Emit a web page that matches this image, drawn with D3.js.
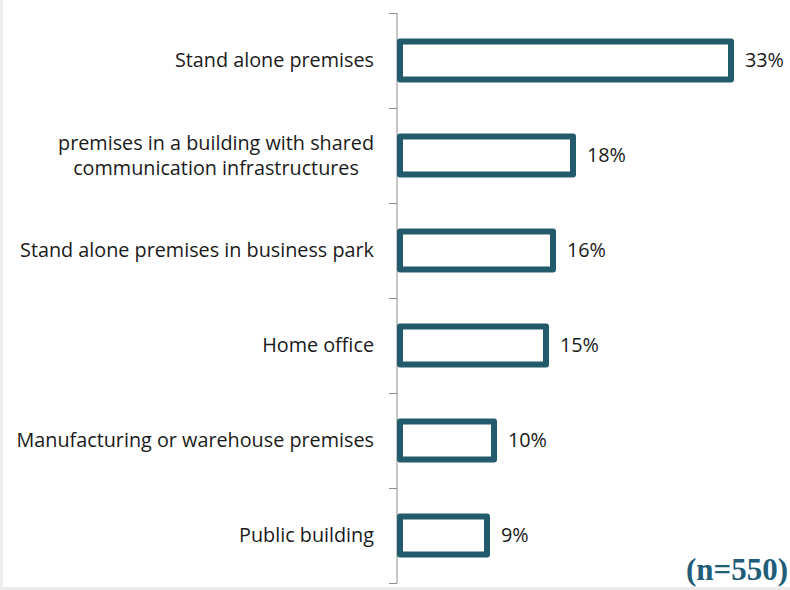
<!DOCTYPE html>
<html>
<head>
<meta charset="utf-8">
<script src="https://cdn.jsdelivr.net/npm/d3@7"></script>
<style>
  body { margin: 0; background: #fff; }
  svg { display: block; }
  .cat, .val { font-family: "Open Sans", sans-serif; font-size: 19.8px; fill: #1a1a1a; }
  .note { font-family: "Liberation Serif", serif; font-weight: bold; font-size: 31px; fill: #215d78; }
</style>
</head>
<body>
<div id="chart"></div>
<script>
'use strict';
(function() {
  // Data
  var categories = [
    'Stand alone premises',
    'premises in a building with shared\ncommunication infrastructures',
    'Stand alone premises in business park',
    'Home office',
    'Manufacturing or warehouse premises',
    'Public building'
  ];
  var values = [33.4, 17.6, 15.6, 14.9, 9.7, 9.0];
  var sampleNote = '(n=550)';

  //Width and height
  var w = 790;
  var h = 590;
  var axisX = 397;
  var top = 13;
  var bottom = 583;
  var barStroke = 6;
  var labelRight = 374;
  var BAR_COLOR = '#245b6c';

  var data = categories.map(function(c, i) {
    return {name: c, value: values[i]};
  });

  var svg = d3.select('#chart')
    .append('svg')
    .attr('width', w)
    .attr('height', h);

  // faint frame of the slide
  svg.append('rect')
    .attr('x', 0).attr('y', 0)
    .attr('width', 3).attr('height', h)
    .attr('fill', '#ececec');
  svg.append('rect')
    .attr('x', 0).attr('y', h - 3)
    .attr('width', w).attr('height', 3)
    .attr('fill', '#ececec');

  // Scales
  var xScale = d3.scaleLinear()
    .domain([0, 35])
    .range([axisX, axisX + 350]);

  var yScale = d3.scaleBand()
    .domain(d3.range(data.length))
    .range([top, bottom])
    .paddingInner(0.537)
    .paddingOuter(0.2685);

  // Y axis: line with ticks between categories
  var axis = svg.append('g').attr('class', 'axis');
  axis.append('line')
    .attr('x1', axisX).attr('x2', axisX)
    .attr('y1', top).attr('y2', bottom)
    .attr('stroke', '#8c8c8c')
    .attr('stroke-width', 1);
  var step = yScale.step();
  var tickYs = d3.range(data.length + 1).map(function(i) {
    return top + i * step;
  });
  axis.selectAll('.tick')
    .data(tickYs)
    .enter()
    .append('line')
    .attr('class', 'tick')
    .attr('x1', axisX - 8).attr('x2', axisX)
    .attr('y1', function(d) { return Math.round(d) + 0.5; })
    .attr('y2', function(d) { return Math.round(d) + 0.5; })
    .attr('stroke', '#8c8c8c')
    .attr('stroke-width', 1);

  // Bars (outlined)
  svg.append('g')
    .attr('class', 'bars')
    .selectAll('rect')
    .data(data)
    .enter()
    .append('rect')
    .attr('x', xScale(0) + barStroke / 2)
    .attr('y', function(d, i) { return yScale(i) + barStroke / 2; })
    .attr('width', function(d) { return xScale(d.value) - xScale(0) - barStroke / 2; })
    .attr('height', yScale.bandwidth() - barStroke)
    .attr('fill', '#fff')
    .attr('stroke', BAR_COLOR)
    .attr('stroke-width', barStroke)
    .attr('stroke-linejoin', 'round');

  // Value labels
  svg.append('g')
    .selectAll('text')
    .data(data)
    .enter()
    .append('text')
    .attr('class', 'val')
    .attr('x', function(d) { return xScale(d.value) + barStroke / 2 + 11; })
    .attr('y', function(d, i) { return yScale(i) + yScale.bandwidth() / 2; })
    .attr('dy', '0.35em')
    .text(function(d) { return Math.round(d.value) + '%'; });

  // Category labels (multi-line ones centred as a block, block right aligned)
  var cats = svg.append('g')
    .selectAll('text')
    .data(data)
    .enter()
    .append('text')
    .attr('class', 'cat')
    .attr('text-anchor', 'middle');

  cats.each(function(d, i) {
    var t = d3.select(this);
    var lines = d.name.split('\n');
    var cy = yScale(i) + yScale.bandwidth() / 2;
    var lineH = 25;
    lines.forEach(function(line, j) {
      t.append('tspan')
        .attr('y', cy + (j - (lines.length - 1) / 2) * lineH)
        .attr('dy', '0.35em')
        .text(line);
    });
    var maxW = 0;
    t.selectAll('tspan').each(function() {
      maxW = Math.max(maxW, this.getComputedTextLength());
    });
    t.selectAll('tspan').attr('x', labelRight - maxW / 2);
  });

  // Sample size note
  svg.append('text')
    .attr('class', 'note')
    .attr('x', 788)
    .attr('y', 580)
    .attr('text-anchor', 'end')
    .text(sampleNote);
})();
</script>
</body>
</html>
